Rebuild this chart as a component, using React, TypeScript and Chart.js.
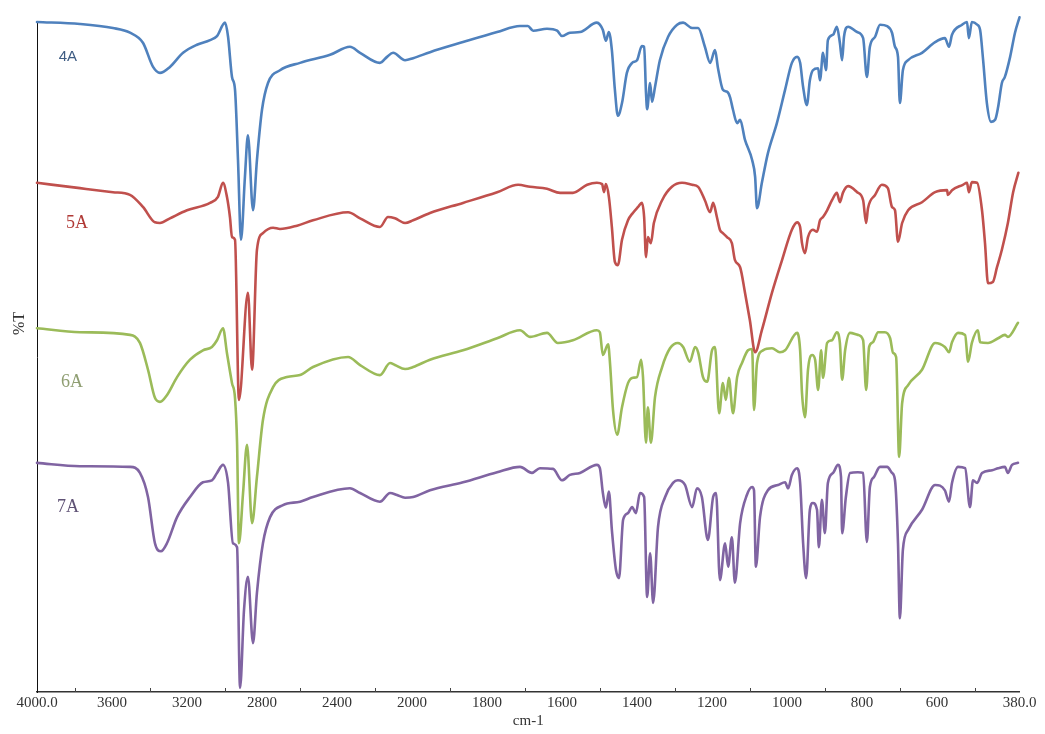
import React, { useEffect, useRef } from 'react';
import { Chart, registerables } from 'chart.js';

Chart.register(...registerables);

// ---------- DATA (wavenumber in cm-1, stacked %T display value) ----------
const seriesNames = ['4A', '5A', '6A', '7A'];

const wavenumbers4A = [4000,3771,3595,3504,3435,3381,3344,3291,3221,3147,3077,3040,2997,2981,2960,2944,2928,2912,2891,2875,2848,2827,2800,2768,2704,2597,2437,2331,2277,2171,2133,2101,2037,1997,1952,1864,1773,1712,1691,1677,1640,1613,1600,1579,1552,1507,1499,1491,1483,1475,1467,1459,1451,1440,1427,1413,1400,1387,1381,1376,1373,1365,1360,1352,1339,1317,1293,1277,1253,1237,1219,1205,1192,1184,1171,1160,1152,1144,1133,1125,1112,1093,1085,1080,1067,1051,1027,1005,987,973,965,957,947,939,931,917,912,904,896,891,877,867,859,853,848,837,813,797,787,779,765,752,733,720,712,704,699,691,677,640,605,579,568,560,533,520,515,507,493,485,477,467,456,445,437,427,419,405,392,380];
const transmittance4A = [100.0,99.7,99.1,98.4,96.9,93.3,92.4,93.3,95.4,96.6,97.3,97.9,99.9,97.8,91.8,89.9,79.4,67.5,76.9,83.1,71.9,79.4,86.9,90.9,92.8,93.9,95.1,96.3,95.4,93.9,94.8,95.4,94.3,94.6,95.5,97.0,98.5,99.4,99.4,98.7,99.0,98.7,97.9,98.4,98.5,99.9,99.6,98.8,97.2,98.5,95.8,89.9,86.0,87.9,92.4,93.9,94.3,96.4,96.3,89.4,87.0,90.9,88.1,90.3,94.3,97.8,99.6,99.9,99.1,99.1,96.3,93.9,95.8,93.1,89.9,89.6,88.8,86.9,84.9,85.4,82.4,79.4,76.9,72.2,76.0,80.4,84.9,89.9,93.9,94.8,93.9,90.3,87.6,91.3,92.8,93.1,91.3,95.4,92.8,97.3,98.1,99.3,96.9,94.3,97.8,99.3,98.5,97.6,91.8,96.3,97.8,99.6,99.4,98.4,96.3,94.8,87.9,92.8,94.3,95.4,97.0,97.6,96.3,98.1,99.6,100.0,97.6,100.0,99.6,98.8,94.3,87.9,85.1,85.4,87.3,90.9,91.8,94.8,98.4,100.7];

const wavenumbers5A = [4000,3771,3595,3504,3435,3371,3344,3291,3200,3077,3035,3008,2987,2971,2960,2944,2923,2875,2853,2827,2795,2741,2704,2613,2528,2341,2277,2171,2128,2091,2037,1997,1952,1864,1773,1717,1685,1640,1605,1571,1533,1507,1493,1488,1483,1475,1467,1459,1451,1440,1424,1411,1397,1387,1381,1376,1371,1363,1355,1333,1307,1280,1253,1237,1219,1205,1197,1187,1179,1171,1160,1147,1139,1125,1112,1099,1085,1067,1040,1013,987,973,965,960,952,944,931,920,912,904,893,880,867,859,851,837,813,797,789,784,765,747,731,720,712,704,693,677,640,605,573,571,560,531,520,515,507,493,480,472,464,451,440,427,411,397,383];
const transmittance5A = [76.0,75.2,74.6,74.2,72.4,70.1,70.0,70.7,71.9,73.0,73.9,76.0,73.9,70.9,67.9,67.5,43.6,59.6,48.1,66.0,68.5,69.3,69.1,69.6,70.4,71.6,70.7,69.4,70.9,70.7,70.0,70.4,71.5,73.0,74.6,75.7,75.4,75.1,74.5,74.5,75.7,76.0,75.8,74.6,75.8,73.9,69.4,64.2,63.7,67.5,70.4,71.5,72.4,73.0,70.9,64.9,67.9,67.0,70.0,73.4,75.4,76.0,75.7,75.4,73.4,71.6,73.0,70.9,69.0,68.5,67.9,67.0,64.5,63.4,59.6,55.5,50.7,54.0,59.6,64.5,69.0,70.1,69.4,67.0,65.5,67.9,69.0,68.7,70.4,70.9,71.9,73.4,74.5,73.1,74.5,75.5,74.6,73.4,70.0,72.2,74.2,75.7,75.2,72.4,71.9,67.2,70.0,71.9,73.1,74.6,74.9,74.2,74.9,75.7,76.0,74.6,76.1,76.0,71.9,67.0,61.0,61.2,63.4,66.0,70.0,74.6,77.5];

const wavenumbers6A = [4000,3771,3504,3451,3408,3371,3344,3307,3253,3184,3115,3067,3040,3008,2987,2960,2944,2933,2923,2901,2880,2853,2827,2795,2741,2667,2597,2528,2341,2277,2171,2117,2091,2037,1997,1952,1864,1773,1712,1685,1640,1611,1571,1507,1499,1491,1477,1472,1464,1453,1440,1424,1411,1400,1389,1384,1376,1371,1363,1352,1333,1312,1291,1277,1259,1245,1237,1224,1213,1200,1192,1181,1171,1163,1155,1144,1133,1120,1104,1093,1088,1080,1064,1040,1019,1005,973,965,960,952,944,933,925,917,909,904,893,880,867,859,853,845,832,811,797,789,781,771,757,739,725,717,709,701,693,677,640,605,579,568,560,544,525,517,507,491,485,464,437,419,411,384];
const transmittance6A = [54.3,53.7,53.3,52.1,48.1,43.9,43.3,44.3,47.0,49.6,51.0,51.5,52.5,54.3,50.6,46.1,43.9,37.2,22.2,29.7,36.9,25.2,32.1,40.6,45.5,47.0,47.3,48.5,50.0,48.8,47.3,49.1,48.8,48.2,48.5,49.6,51.0,52.8,54.0,53.0,53.6,52.1,52.5,54.0,53.7,50.3,51.9,49.1,42.1,38.4,42.5,46.1,46.9,47.0,49.6,47.0,37.2,42.5,37.2,44.0,48.5,51.3,52.1,51.5,49.3,51.5,50.7,47.0,46.3,51.0,51.5,41.6,46.1,43.6,46.9,41.6,47.0,49.1,51.0,51.2,42.1,49.1,51.0,51.3,50.7,51.0,53.6,51.0,44.6,41.0,48.1,50.3,49.6,45.1,51.0,46.9,52.1,52.5,53.7,52.1,46.6,51.0,53.6,53.3,52.5,45.1,51.5,52.2,53.7,53.7,52.8,50.6,50.0,35.1,43.1,45.8,48.1,52.1,51.5,50.7,52.2,53.6,53.3,49.3,52.1,54.0,52.2,52.1,52.8,53.3,53.0,55.1];

const wavenumbers7A = [4000,3771,3504,3451,3408,3371,3339,3307,3253,3184,3115,3067,3040,3008,2981,2955,2933,2917,2896,2875,2848,2827,2795,2757,2688,2597,2528,2331,2277,2171,2117,2080,2037,1997,1952,1864,1773,1712,1680,1659,1624,1600,1579,1552,1507,1499,1491,1483,1475,1467,1456,1448,1437,1424,1413,1403,1392,1381,1373,1365,1357,1344,1325,1304,1291,1272,1253,1240,1227,1211,1197,1189,1179,1165,1157,1147,1139,1125,1107,1093,1088,1083,1072,1051,1024,1005,997,987,973,965,957,949,939,931,920,915,907,899,891,877,864,856,853,843,832,811,797,787,779,768,752,733,720,712,704,699,691,677,640,605,579,568,560,544,525,512,504,493,480,453,437,419,411,400,384];
const transmittance7A = [34.2,33.7,33.6,32.7,29.1,22.2,21.0,22.2,26.1,29.1,31.3,31.6,32.7,33.9,31.2,22.2,21.6,0.6,12.2,17.2,7.3,14.8,22.2,26.1,27.9,28.4,29.1,30.4,29.7,28.4,29.7,29.4,29.0,29.1,30.1,31.3,32.8,33.6,32.7,33.4,33.3,31.6,32.4,32.7,33.9,33.4,29.7,27.5,29.9,24.2,18.2,17.0,25.7,26.7,27.6,26.7,29.7,29.1,14.2,20.7,13.3,24.6,29.1,31.2,31.6,30.9,27.6,30.4,29.1,22.7,29.1,29.7,16.7,22.2,18.7,23.1,16.3,25.2,29.4,30.6,30.1,18.7,26.1,30.1,30.9,31.3,30.4,32.4,33.4,31.2,22.2,17.0,27.2,28.2,27.2,21.6,28.7,23.7,31.2,32.7,33.9,32.1,23.7,29.1,32.7,32.8,32.7,22.4,30.6,32.1,33.6,33.6,32.7,31.6,22.2,11.0,21.2,24.2,27.2,30.9,30.1,28.4,31.2,33.6,33.4,27.6,31.6,31.2,32.7,33.1,33.4,33.6,32.7,33.9,34.2];

// tick labels of the wavenumber axis (scale changes at 2000 cm-1)
const majorTicks = [4000, 3600, 3200, 2800, 2400, 2000, 1800, 1600, 1400, 1200, 1000, 800, 600, 380];
const minorTicks = [3800, 3400, 3000, 2600, 2200, 1900, 1700, 1500, 1300, 1100, 900, 700, 500];
const xAxisTitle = 'cm-1';
const yAxisTitle = '%T';

// ---------- STYLE / LAYOUT ----------
const seriesColors = ['#4F81BD', '#C0504D', '#9BBB59', '#8064A2'];
const labelColors = ['#3E5C83', '#B03A36', '#8F9E72', '#5F5275'];
const labelFonts = ['15px "Liberation Sans"', '18px "Liberation Serif"', '18px "Liberation Serif"', '18px "Liberation Serif"'];
const labelAnchorWavenumber = [3835, 3787, 3813, 3835];
const labelAnchorValue = [94.8, 70.0, 46.3, 27.6];

// axis position: 4000-2000 compressed 2x relative to 2000-380
const toPos = (w: number) => (w >= 2000 ? (4000 - w) / 2 : 1000 + (2000 - w));
const fromPos = (p: number) => (p <= 1000 ? 4000 - 2 * p : 3000 - p);

const W = 1045;
const H = 734;

const textPlugin = {
  id: 'irText',
  afterDraw(chart: any) {
    const { ctx, chartArea } = chart;
    const xs = chart.scales.x;
    const ys = chart.scales.y;
    ctx.save();
    // inward minor tick marks on the wavenumber axis
    ctx.strokeStyle = '#444';
    ctx.lineWidth = 1;
    minorTicks.forEach((w) => {
      const px = Math.round(xs.getPixelForValue(toPos(w))) + 0.5;
      ctx.beginPath();
      ctx.moveTo(px, chartArea.bottom);
      ctx.lineTo(px, chartArea.bottom - 4);
      ctx.stroke();
    });
    // %T title
    ctx.save();
    ctx.translate(chartArea.left - 17, ys.getPixelForValue(55));
    ctx.rotate(-Math.PI / 2);
    ctx.font = '16px "Liberation Serif"';
    ctx.fillStyle = '#333';
    ctx.textAlign = 'center';
    ctx.textBaseline = 'middle';
    ctx.fillText(yAxisTitle, 0, 0);
    ctx.restore();
    // series labels
    seriesNames.forEach((name, i) => {
      ctx.font = labelFonts[i];
      ctx.fillStyle = labelColors[i];
      ctx.textAlign = 'center';
      ctx.textBaseline = 'middle';
      ctx.fillText(name, xs.getPixelForValue(toPos(labelAnchorWavenumber[i])), ys.getPixelForValue(labelAnchorValue[i]));
    });
    ctx.restore();
  },
};

export default function App() {
  const canvasRef = useRef<HTMLCanvasElement | null>(null);

  useEffect(() => {
    if (!canvasRef.current) return;
    const wns = [wavenumbers4A, wavenumbers5A, wavenumbers6A, wavenumbers7A];
    const vals = [transmittance4A, transmittance5A, transmittance6A, transmittance7A];
    const datasets = seriesNames.map((name, i) => ({
      label: name,
      data: wns[i].map((w, j) => ({ x: toPos(w), y: vals[i][j] })),
      borderColor: seriesColors[i],
      backgroundColor: seriesColors[i],
      borderWidth: 2.6,
      pointRadius: 0,
      pointHoverRadius: 0,
      cubicInterpolationMode: 'monotone' as const,
      borderJoinStyle: 'round' as const,
      borderCapStyle: 'round' as const,
      clip: false as any,
      fill: false,
    }));

    const chart = new Chart(canvasRef.current, {
      type: 'line',
      data: { datasets },
      plugins: [textPlugin],
      options: {
        responsive: false,
        animation: false,
        events: [],
        layout: { padding: { top: 22, right: 25.5, left: 0, bottom: 0 } },
        plugins: { legend: { display: false }, tooltip: { enabled: false } },
        scales: {
          x: {
            type: 'linear',
            min: 0,
            max: toPos(380),
            afterBuildTicks: (scale: any) => {
              scale.ticks = majorTicks.map((w) => ({ value: toPos(w) }));
            },
            afterFit: (scale: any) => {
              scale.height = 42;
            },
            ticks: {
              autoSkip: false,
              maxRotation: 0,
              minRotation: 0,
              padding: 2,
              color: '#333',
              font: { family: 'Liberation Serif', size: 15 },
              callback: (value: any) => {
                const w = Math.round(fromPos(Number(value)));
                return w === 4000 || w === 380 ? w.toFixed(1) : String(w);
              },
            },
            grid: { display: false, drawTicks: false },
            border: { display: true, color: '#333', width: 1.5 },
            title: {
              display: true,
              text: xAxisTitle,
              color: '#333',
              font: { family: 'Liberation Serif', size: 15 },
              padding: { top: 0, bottom: 4 },
            },
          },
          y: {
            type: 'linear',
            min: 0,
            max: 100,
            afterFit: (scale: any) => {
              scale.width = 37;
            },
            ticks: { display: false },
            grid: { display: false, drawTicks: false },
            border: { display: true, color: '#111', width: 1 },
          },
        },
      },
    });
    return () => chart.destroy();
  }, []);

  return (
    <div style={{ position: 'absolute', left: 0, top: 0, width: W, height: H, background: '#fff' }}>
      <canvas ref={canvasRef} width={W} height={H} style={{ display: 'block', width: W, height: H }} />
    </div>
  );
}
